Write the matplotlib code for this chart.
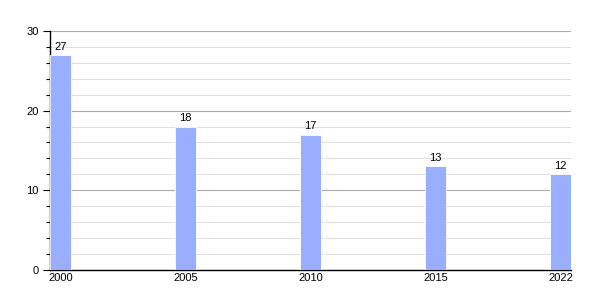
import matplotlib
matplotlib.use("Agg")
import matplotlib.pyplot as plt
from matplotlib.ticker import MultipleLocator

years = ["2000", "2005", "2010", "2015", "2022"]
values = [27, 18, 17, 13, 12]

plt.rcParams['font.family'] = ['Liberation Sans', 'DejaVu Sans']

fig = plt.figure(figsize=(6, 3), dpi=100)
ax = fig.add_axes([0.0833, 0.1, 0.869, 0.797])

pos = list(range(len(years)))
ax.bar(pos, values, width=0.17, color="#9aaeff", edgecolor="white", linewidth=0.6, zorder=3)
for x, v in zip(pos, values):
    ax.text(x, v + 0.4, str(v), ha="center", va="bottom", fontsize=8, zorder=4)

ax.set_xlim(-0.085, 4.085)
ax.set_ylim(0, 30)
ax.set_xticks(pos)
ax.set_xticklabels(years, fontsize=8)
ax.tick_params(axis="x", length=0, pad=2)
ax.yaxis.set_major_locator(MultipleLocator(10))
ax.yaxis.set_minor_locator(MultipleLocator(2))
ax.tick_params(axis="y", which="major", length=5, width=0.8, labelsize=8, pad=3)
ax.tick_params(axis="y", which="minor", length=3, width=0.8)
ax.grid(axis="y", which="major", color="#aaaaaa", linewidth=0.8, zorder=0)
ax.grid(axis="y", which="minor", color="#e0e0e0", linewidth=0.8, zorder=0)
for s in ["top", "right"]:
    ax.spines[s].set_visible(False)
ax.spines["left"].set_linewidth(1)
ax.spines["bottom"].set_linewidth(1)

fig.savefig("out.png", dpi=100)
